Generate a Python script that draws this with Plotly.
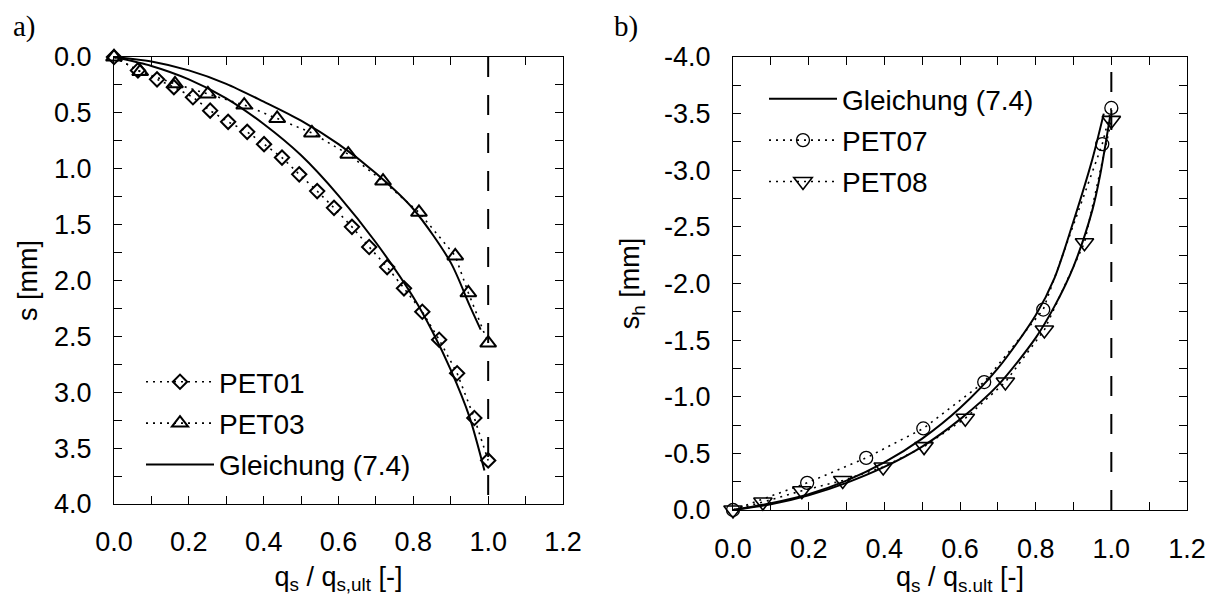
import plotly.graph_objects as go

# ---------------- data ----------------
# Panel a) settlement s [mm] vs q_s / q_s,ult
pet01_q = [0.0, 0.064, 0.115, 0.160, 0.211, 0.257, 0.305, 0.356, 0.401, 0.449, 0.495,
           0.543, 0.588, 0.636, 0.682, 0.730, 0.775, 0.824, 0.869, 0.917, 0.963, 1.0]
pet01_s = [0.0, 0.12, 0.20, 0.27, 0.36, 0.48, 0.58, 0.67, 0.78, 0.90, 1.05,
           1.20, 1.35, 1.52, 1.70, 1.88, 2.07, 2.28, 2.53, 2.83, 3.23, 3.61]
pet03_q = [0.0, 0.07, 0.163, 0.251, 0.348, 0.436, 0.529, 0.626, 0.719, 0.815, 0.912, 0.947, 1.0]
pet03_s = [0.0, 0.13, 0.24, 0.33, 0.43, 0.55, 0.68, 0.87, 1.11, 1.39, 1.78, 2.11, 2.56]
gl_a1_q = [0.0, 0.1, 0.2, 0.3, 0.4, 0.5, 0.6, 0.7, 0.8, 0.85, 0.9, 0.95, 0.99]
gl_a1_s = [0.0, 0.08, 0.20, 0.37, 0.60, 0.88, 1.24, 1.66, 2.15, 2.45, 2.80, 3.22, 3.70]
gl_a3_q = [0.0, 0.1, 0.2, 0.3, 0.4, 0.5, 0.6, 0.7, 0.8, 0.9, 0.95, 0.98]
gl_a3_s = [0.0, 0.04, 0.12, 0.24, 0.40, 0.57, 0.78, 1.04, 1.36, 1.84, 2.22, 2.44]

# Panel b) horizontal displacement s_h [mm] vs q_s / q_s.ult
pet07_q = [0.0, 0.196, 0.352, 0.503, 0.664, 0.82, 0.976, 1.0]
pet07_sh = [0.0, -0.24, -0.46, -0.72, -1.13, -1.77, -3.23, -3.55]
pet08_q = [0.0, 0.079, 0.182, 0.29, 0.397, 0.505, 0.614, 0.72, 0.823, 0.929, 1.0]
pet08_sh = [0.0, -0.07, -0.17, -0.26, -0.38, -0.56, -0.81, -1.13, -1.59, -2.36, -3.44]
gl_b7_q = [0.0, 0.1, 0.2, 0.3, 0.4, 0.5, 0.6, 0.7, 0.8, 0.85, 0.9, 0.95, 0.98]
gl_b7_sh = [0.0, -0.06, -0.14, -0.26, -0.42, -0.63, -0.90, -1.25, -1.72, -2.05, -2.55, -3.10, -3.50]
gl_b8_q = [0.0, 0.1, 0.2, 0.3, 0.4, 0.5, 0.6, 0.7, 0.8, 0.85, 0.9, 0.95, 0.97, 0.997]
gl_b8_sh = [0.0, -0.05, -0.13, -0.24, -0.38, -0.56, -0.80, -1.10, -1.52, -1.80, -2.15, -2.65, -2.95, -3.48]

q_ult = 1.0

x_ticks = [round(i * 0.1, 1) for i in range(13)]
x_text = [f"{v:.1f}" if i % 2 == 0 else "" for i, v in enumerate(x_ticks)]
ya_ticks = [round(i * 0.25, 2) for i in range(17)]
ya_text = [f"{v:.1f}" if i % 2 == 0 else "" for i, v in enumerate(ya_ticks)]
yb_ticks = [round(-i * 0.25, 2) for i in range(17)]
yb_text = [(f"{v:.1f}" if v != 0 else "0.0") if i % 2 == 0 else "" for i, v in enumerate(yb_ticks)]

FONT = "Liberation Sans, Arial, sans-serif"
SERIF = "Liberation Serif, Times New Roman, serif"
# the page body has an 8px margin; the figure is sized to fit inside the 1216x604 window
OFF = 8
W, H = 1200, 588


def px(sx):
    return (sx - OFF) / W


def py(sy):
    return 1 - (sy - OFF) / H


fig = go.Figure()


def measured(x, y, name, symbol, size, lw, xa, ya, legend, rank):
    return go.Scatter(
        x=x, y=y, name=name, mode="lines+markers", xaxis=xa, yaxis=ya,
        legend=legend, legendrank=rank, legendgroup=name, cliponaxis=False,
        line=dict(color="black", width=1.6, dash="2px,5px"),
        marker=dict(symbol=symbol, size=size, color="black",
                    line=dict(color="black", width=lw)))


def fit(x, y, show, xa, ya, legend, rank, group):
    return go.Scatter(
        x=x, y=y, name="Gleichung (7.4)", mode="lines", xaxis=xa, yaxis=ya,
        legend=legend, legendrank=rank, legendgroup=group, showlegend=show,
        cliponaxis=False,
        line=dict(color="black", width=2, shape="spline", smoothing=0.8))


# panel a
fig.add_trace(fit(gl_a3_q, gl_a3_s, False, "x", "y", "legend", 3, "gla"))
fig.add_trace(fit(gl_a1_q, gl_a1_s, True, "x", "y", "legend", 3, "gla"))
fig.add_trace(measured(pet01_q, pet01_s, "PET01", "diamond-open", 11, 2, "x", "y", "legend", 1))
fig.add_trace(measured(pet03_q, pet03_s, "PET03", "triangle-up-open", 14, 2, "x", "y", "legend", 2))

# panel b
fig.add_trace(fit(gl_b8_q, gl_b8_sh, False, "x2", "y2", "legend2", 1, "glb"))
fig.add_trace(fit(gl_b7_q, gl_b7_sh, True, "x2", "y2", "legend2", 1, "glb"))
fig.add_trace(measured(pet07_q, pet07_sh, "PET07", "circle-open", 13, 1.3, "x2", "y2", "legend2", 2))
fig.add_trace(measured(pet08_q, pet08_sh, "PET08", "triangle-down-open", 16, 1.6, "x2", "y2", "legend2", 3))

axis_common = dict(
    showgrid=False, zeroline=False, showline=True, linecolor="black", linewidth=1,
    mirror="ticks", ticks="inside", ticklen=8, tickwidth=1, tickcolor="black",
    automargin=False,
    tickfont=dict(family=FONT, size=27, color="black"),
    title_font=dict(family=FONT, size=27, color="black"),
)

fig.update_layout(
    width=W, height=H,
    margin=dict(l=0, r=0, t=0, b=0, autoexpand=False),
    paper_bgcolor="white", plot_bgcolor="white",
    font=dict(family=FONT, color="black"),
    xaxis=dict(domain=[px(114), px(563)], anchor="y", range=[0, 1.2],
               tickvals=x_ticks, ticktext=x_text, ticklabelstandoff=14,
               title=dict(text="q<sub>s</sub> / q<sub>s,ult</sub> [-]", standoff=10),
               **axis_common),
    yaxis=dict(domain=[py(504), py(57)], anchor="x", range=[4.0, 0.0],
               tickvals=ya_ticks, ticktext=ya_text, ticklabelstandoff=16,
               title=dict(text="s [mm]", standoff=8), **axis_common),
    xaxis2=dict(domain=[px(733), px(1187)], anchor="y2", range=[0, 1.2],
                tickvals=x_ticks, ticktext=x_text, ticklabelstandoff=15,
                title=dict(text="q<sub>s</sub> / q<sub>s.ult</sub> [-]", standoff=8),
                **axis_common),
    yaxis2=dict(domain=[py(510), py(57)], anchor="x2", range=[0.0, -4.0],
                tickvals=yb_ticks, ticktext=yb_text, ticklabelstandoff=16,
                title=dict(text="s<sub>h</sub> [mm]", standoff=16), **axis_common),
    legend=dict(x=px(141), y=py(357), xanchor="left", yanchor="top",
                bgcolor="rgba(0,0,0,0)", font=dict(family=FONT, size=28),
                itemwidth=68, traceorder="grouped", tracegroupgap=2),
    legend2=dict(x=px(764), y=py(74), xanchor="left", yanchor="top",
                 bgcolor="rgba(0,0,0,0)", font=dict(family=FONT, size=28),
                 itemwidth=68, traceorder="grouped", tracegroupgap=2),
    showlegend=True,
    shapes=[
        dict(type="line", xref="x", yref="y", x0=q_ult, x1=q_ult, y0=0, y1=4,
             line=dict(color="black", width=2, dash="20px,18px")),
        dict(type="line", xref="x2", yref="y2", x0=q_ult, x1=q_ult, y0=0, y1=-4,
             line=dict(color="black", width=2, dash="20px,18px")),
    ],
    annotations=[
        dict(text="a)", xref="paper", yref="paper", x=px(11), y=1,
             xanchor="left", yanchor="top", showarrow=False,
             font=dict(family=SERIF, size=29, color="black")),
        dict(text="b)", xref="paper", yref="paper", x=px(612), y=1,
             xanchor="left", yanchor="top", showarrow=False,
             font=dict(family=SERIF, size=29, color="black")),
    ],
)

fig.write_html("out.html")
